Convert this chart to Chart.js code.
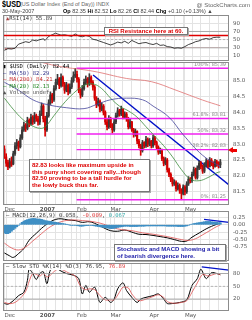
<!DOCTYPE html>
<html lang="en">
<head>
<meta charset="UTF-8">
<title>$USD</title>
<script src="https://cdn.jsdelivr.net/npm/chart.js"></script>
<style>
  body { margin: 0; width: 252px; height: 320px; position: relative; overflow: hidden; background: #fff;
         font-family: "Liberation Sans", Arial, sans-serif; }
  canvas { position: absolute; left: 0; }
  .t { position: absolute; white-space: nowrap; line-height: 1; z-index: 5; }
  .mono { font-family: "DejaVu Sans Mono", monospace; font-size: 5.5px; color: #333; }
  .box { position: absolute; z-index: 5; background: #fff; border: 1px solid #777; box-shadow: 1px 1px 0 #aaa;
         font-weight: bold; white-space: nowrap; box-sizing: border-box; }
</style>
</head>
<body>
<canvas id="rsiChart" width="252" height="46" style="top:15px"></canvas>
<canvas id="priceChart" width="252" height="152" style="top:62px"></canvas>
<canvas id="macdChart" width="252" height="50" style="top:211px"></canvas>
<canvas id="stoChart" width="252" height="57" style="top:263px"></canvas>

<!-- шапка -->
<div class="t" style="left:2px;top:0px;font-weight:bold;font-size:9px;transform:scaleX(0.8);transform-origin:left">$USD</div>
<div class="t" style="left:20px;top:2px;font-size:5.5px;color:#666">(US Dollar Index (End of Day)) INDX</div>
<div class="t" style="right:2px;top:2px;font-size:6px;color:#666">@ StockCharts.com</div>
<div class="t" style="left:2px;top:9px;font-size:5.5px;color:#444">30-May-2007</div>
<div class="t" style="left:63px;top:9px;font-size:5.5px;color:#444"><b style="color:#000">Op</b> 82.35 <b style="color:#000">Hi</b> 82.52 <b style="color:#000">Lo</b> 82.26 <b style="color:#000">Cl</b> 82.44 <b style="color:#000">Chg</b> +0.10 (+0.13%) ▲</div>

<!-- подписи панелей -->
<div class="t mono" style="left:6px;top:16px"><span style="color:#a44">▲</span>RSI(14) 55.89</div>
<div class="box" style="left:104px;top:27px;width:84px;height:8px;color:#d00;font-size:6px;text-align:center;line-height:6px">RSI Resistance here at 60.</div>

<div class="t mono" style="left:3px;top:63px;line-height:6.5px">
  <span style="color:#000">▮ $USD (Daily) 82.44</span><br>
  <span style="color:#33338a">— MA(50) 82.29</span><br>
  <span style="color:#c33">— MA(200) 84.21</span><br>
  <span style="color:#282">— MA(20) 82.13</span><br>
  <span style="color:#555">▲ Volume undef</span>
</div>
<div class="box" style="left:29px;top:159px;width:121px;height:33px;color:#d00;font-size:6px;line-height:6.7px;padding:2px 0 0 2px">82.83 looks like maximum upside in<br>this puny short covering rally...though<br>82.50 proving to be a tall hurdle for<br>the lowly buck thus far.</div>
<div class="t" style="left:228px;top:147px;width:0;height:0;border-right:5px solid #e00;border-top:3.5px solid transparent;border-bottom:3.5px solid transparent"></div>
<div class="t" style="left:232px;top:149px;width:5px;height:3px;background:#e00"></div>

<div class="t mono" style="left:6px;top:213px">— MACD(12,26,9) 0.058, <span style="color:#d33">-0.009</span>, <span style="color:#3aa">0.067</span></div>
<div class="box" style="left:114px;top:244px;width:112px;height:17px;color:#22a;font-size:6px;line-height:7px;padding:1px 0 0 2px">Stochastic and MACD showing a bit<br>of bearish divergence here.</div>

<div class="t mono" style="left:6px;top:264px;background:#fff">— Slow STO %K(14) %D(3) 76.95, <span style="color:#d33">76.89</span></div>

<script>
// --- оси времени: индекс торгового дня (1 дек 2006 = 0) ---
const X_MIN = -0.8, X_MAX = 126.9;
const monthIdx = [0, 20, 41, 60, 82, 102];
const monthNames = ['Dec', '2007', 'Feb', 'Mar', 'Apr', 'May'];
const weekIdx = [1, 6, 11, 16, 24, 29, 33, 38, 43, 48, 53, 57, 62, 67, 72, 77, 86, 91, 96, 101, 106, 111, 116, 121];

// --- цены ---
const opens = [82.85,82.60,82.42,82.30,82.45,82.38,82.70,82.95,83.05,82.92,83.20,83.45,83.60,83.50,83.75,83.65,83.85,83.70,83.90,83.80,
  83.70,83.95,84.20,83.80,83.45,83.90,84.30,84.55,84.40,84.75,84.95,85.05,84.85,85.10,84.90,84.70,84.85,84.65,84.80,85.00,85.15,
  85.20,85.05,84.70,84.55,84.75,84.95,85.05,84.90,85.10,84.95,84.80,84.45,84.25,84.35,84.10,84.20,84.00,83.70,83.55,
  83.80,83.60,83.45,83.70,83.90,84.05,83.95,84.10,83.85,83.95,83.80,83.55,83.70,83.45,83.30,83.40,83.10,82.95,82.80,83.05,82.95,83.15,
  83.00,83.10,82.95,83.20,83.05,82.90,82.75,82.80,82.55,82.40,82.50,82.20,82.05,81.90,81.75,81.80,81.60,81.70,81.55,81.45,
  81.65,81.50,81.75,81.90,81.85,82.05,82.20,81.95,82.25,82.40,82.30,82.15,82.35,82.45,82.30,82.50,82.40,82.30,82.45,82.38,82.35];
const highs = [82.95,82.70,82.50,82.55,82.60,82.78,83.05,83.15,83.10,83.30,83.55,83.70,83.65,83.85,83.80,83.95,83.90,84.00,83.95,83.88,
  84.05,84.30,84.25,83.88,84.00,84.40,84.65,84.60,84.85,85.05,85.20,85.10,85.22,85.15,84.95,84.95,84.90,84.90,85.10,85.28,85.39,
  85.30,85.10,84.75,84.85,85.05,85.15,85.10,85.22,85.15,85.00,84.85,84.50,84.45,84.40,84.30,84.25,84.05,83.78,83.90,
  83.85,83.65,83.78,83.98,84.15,84.10,84.20,84.12,84.02,84.00,83.85,83.78,83.72,83.50,83.48,83.42,83.15,83.00,83.12,83.08,83.25,83.20,
  83.18,83.12,83.28,83.25,83.10,82.95,82.88,82.85,82.60,82.58,82.55,82.25,82.10,81.95,81.88,81.85,81.78,81.75,81.60,81.72,
  81.70,81.82,81.98,81.95,82.12,82.28,82.25,82.32,82.48,82.45,82.35,82.42,82.55,82.50,82.58,82.55,82.45,82.52,82.50,82.45,82.52];
const lows = [82.55,82.30,82.20,82.25,82.30,82.35,82.65,82.85,82.80,82.88,83.15,83.40,83.40,83.45,83.55,83.60,83.62,83.65,83.72,83.60,
  83.62,83.90,83.70,83.25,83.40,83.85,84.25,84.30,84.35,84.70,84.88,84.75,84.80,84.82,84.60,84.65,84.55,84.60,84.75,84.95,85.10,
  84.95,84.62,84.45,84.50,84.70,84.88,84.80,84.85,84.88,84.70,84.38,84.15,84.20,84.02,84.05,83.92,83.62,83.45,83.50,
  83.52,83.35,83.40,83.65,83.85,83.88,83.90,83.80,83.80,83.72,83.48,83.50,83.40,83.22,83.25,83.02,82.88,82.65,82.75,82.88,82.90,82.92,
  82.95,82.88,82.90,82.98,82.85,82.68,82.70,82.48,82.32,82.35,82.12,81.98,81.82,81.68,81.70,81.52,81.55,81.45,81.25,81.40,
  81.40,81.45,81.70,81.78,81.80,82.00,81.90,81.90,82.20,82.22,82.08,82.10,82.30,82.25,82.28,82.32,82.22,82.28,82.30,82.25,82.26];
const closes = [82.62,82.40,82.28,82.45,82.35,82.70,82.95,83.05,82.90,83.20,83.45,83.60,83.50,83.75,83.65,83.85,83.70,83.90,83.80,83.70,
  83.95,84.20,83.80,83.45,83.90,84.30,84.55,84.40,84.75,84.95,85.05,84.85,85.10,84.90,84.70,84.85,84.65,84.80,85.00,85.15,85.20,
  85.05,84.70,84.55,84.75,84.95,85.05,84.90,85.10,84.95,84.80,84.45,84.25,84.35,84.10,84.20,84.00,83.70,83.55,83.80,
  83.60,83.45,83.70,83.90,84.05,83.95,84.10,83.85,83.95,83.80,83.55,83.70,83.45,83.30,83.40,83.10,82.95,82.80,83.05,82.95,83.15,83.00,
  83.10,82.95,83.20,83.05,82.90,82.75,82.80,82.55,82.40,82.50,82.20,82.05,81.90,81.75,81.80,81.60,81.70,81.55,81.45,81.65,
  81.50,81.75,81.90,81.85,82.05,82.20,81.95,82.25,82.40,82.30,82.15,82.35,82.45,82.30,82.50,82.40,82.30,82.45,82.38,82.34,82.44];

// скользящие средние
const ma20Days = [0, 5, 10, 15, 20, 23, 28, 33, 39, 45, 50, 55, 60, 65, 70, 75, 80, 85, 90, 95, 100, 105, 110, 115, 120, 122];
const ma20Vals = [84.45, 84.1, 83.8, 83.6, 83.5, 83.55, 83.9, 84.25, 84.6, 84.85, 84.9, 84.75, 84.45, 84.2, 84.05, 83.85, 83.55, 83.25, 82.95, 82.6, 82.2, 81.9, 81.85, 81.95, 82.1, 82.13];
const ma50Days = [0, 8, 16, 24, 35, 45, 52, 60, 69, 78, 84, 93, 101, 112, 122];
const ma50Vals = [84.95, 84.7, 84.4, 84.25, 84.15, 84.12, 84.25, 84.4, 84.45, 84.4, 84.2, 83.85, 83.3, 82.65, 82.29];
const ma200Days = [0, 15, 31, 50, 69, 83, 97, 112, 122];
const ma200Vals = [85.75, 85.65, 85.45, 85.3, 85.07, 84.97, 84.7, 84.39, 84.21];

// уровни Фибоначчи и линия тренда
const fibNames = ['100%', '61.8%', '50%', '38.2%', '0%'];
const fibLevels = [85.39, 83.81, 83.32, 82.83, 81.25];
const fibStart = 40.8;
const trendDays = [50.1, 126.9];
const trendVals = [85.18, 81.72];

// RSI
const rsiDays = [0,2,4,6,8,10,12,14,16,18,20,22,23,25,27,29,30,32,34,36,38,40,42,44,46,48,50,52,54,56,58,60,62,64,66,68,70,72,74,76,78,80,82,84,86,88,90,92,94,96,98,100,102,104,106,108,110,112,114,116,118,120,122];
const rsiVals = [24,28,27,29,39,42,45,43,49,47,50,52,48,58,62,66,64,61,62,60,58,64,59,57,60,58,51,49,46,43,40,37,40,44,42,46,41,48,44,40,42,43,40,38,41,36,37,33,32,29,30,29,33,38,41,45,47,51,53,51,55,56,55.89];
const rsiResist = 60;

// MACD
const macdDays = [0,3,5,8,11,14,18,22,26,29,32,36,40,44,48,52,56,60,64,68,72,76,80,84,88,92,96,100,103,106,110,114,118,122];
const macdVals = [-0.95,-1.05,-1.1,-0.97,-0.8,-0.52,-0.29,-0.07,0.1,0.18,0.2,0.16,0.14,0.08,0.1,0.02,-0.1,-0.2,-0.22,-0.18,-0.25,-0.32,-0.33,-0.36,-0.4,-0.44,-0.5,-0.56,-0.55,-0.42,-0.28,-0.14,-0.03,0.058];
const sigDays = [0,4,8,12,16,20,24,28,32,36,40,44,48,52,56,60,64,68,72,76,80,84,88,92,96,100,104,108,112,116,120,122];
const sigVals = [-0.62,-0.78,-0.85,-0.75,-0.55,-0.35,-0.15,0.0,0.1,0.15,0.16,0.14,0.12,0.08,0.02,-0.07,-0.14,-0.18,-0.2,-0.25,-0.29,-0.32,-0.36,-0.4,-0.45,-0.5,-0.53,-0.47,-0.34,-0.2,-0.06,-0.009];
const histVals = [-0.28,-0.3,-0.3,-0.27,-0.22,-0.17,-0.12,-0.07,-0.02,0.03,0.08,0.12,0.15,0.17,0.19,0.2,0.21,0.21,0.2,0.19,
  0.19,0.18,0.16,0.14,0.13,0.12,0.11,0.1,0.09,0.08,0.07,0.06,0.05,0.04,0.03,0.01,0.0,-0.01,-0.02,-0.02,-0.02,
  -0.03,-0.04,-0.05,-0.05,-0.04,-0.03,-0.03,-0.02,-0.02,-0.03,-0.04,-0.05,-0.06,-0.07,-0.08,-0.09,-0.1,-0.11,-0.12,
  -0.13,-0.13,-0.12,-0.11,-0.09,-0.08,-0.07,-0.06,-0.05,-0.05,-0.05,-0.06,-0.06,-0.06,-0.06,-0.06,-0.05,-0.05,-0.05,-0.05,-0.04,-0.04,
  -0.04,-0.04,-0.04,-0.04,-0.04,-0.04,-0.04,-0.04,-0.04,-0.04,-0.05,-0.05,-0.05,-0.05,-0.05,-0.05,-0.06,-0.06,-0.06,-0.06,
  -0.05,-0.04,-0.02,0.0,0.02,0.04,0.05,0.06,0.07,0.08,0.09,0.1,0.11,0.11,0.11,0.1,0.09,0.09,0.08,0.07,0.067];
const macdTrendDays = [112.8, 126.9];
const macdTrendVals = [0.18, 0.08];

// Slow Stochastic
const stoKDays = [0,2,5,8,11,13,14,16,18,20,22,24,26,29,31,35,39,42,44,46,48,51,54,57,60,62,64,67,69,72,75,77,80,84,87,90,92,95,99,103,106,109,111,114,117,120,122];
const stoKVals = [9.5,8,16,28,36,64,90,80,66,80,84,56,88,94,88,80,76,68,32,52,36,48,12,24,12,20,44,58,40,24,12,20,24,28,32,20,9.5,9.5,12,18,52,68,90,68,82,80,76.95];
const stoDDays = [0,3,6,9,12,14,16,18,20,22,24,26,29,32,36,40,43,46,48,51,54,57,60,62,65,67,70,72,75,77,80,84,87,90,92,96,100,103,106,109,112,115,117,120,122];
const stoDVals = [12,9,12,22,38,62,80,78,74,80,72,76,88,90,82,74,50,42,44,42,28,18,18,18,36,48,46,32,18,16,20,26,30,24,14,10,12,16,36,58,78,74,76,80,76.89];
const stoTrendDays = [111.5, 126.9];
const stoTrendVals = [95.8, 87.9];

Chart.defaults.font.family = 'DejaVu Sans';

const pts = (xs, ys) => xs.map((x, i) => ({ x: x, y: ys[i] }));
const hline = v => [{ x: X_MIN, y: v }, { x: X_MAX, y: v }];
const gridIdx = monthIdx.concat(weekIdx).sort((a, b) => a - b);

// рамка панели
const frame = {
  id: 'frame',
  afterDraw(chart) {
    const a = chart.chartArea, c = chart.ctx;
    c.save();
    c.strokeStyle = '#8c8c8c';
    c.lineWidth = 1;
    c.strokeRect(Math.round(a.left) + 0.5, Math.round(a.top) + 0.5,
      Math.round(a.right - a.left) - 1, Math.round(a.bottom - a.top) - 1);
    c.restore();
  }
};

function xScale(showLabels) {
  return {
    type: 'linear', min: X_MIN, max: X_MAX, offset: false,
    afterBuildTicks: s => { s.ticks = gridIdx.map(v => ({ value: v })); },
    afterFit: s => { s.height = showLabels ? 9 : 0; s.paddingLeft = 0; s.paddingRight = 0; },
    grid: { color: '#e3e3e3', drawTicks: false, offset: false },
    border: { display: false },
    ticks: {
      display: showLabels, autoSkip: false, maxRotation: 0, align: 'start', padding: 1, color: '#555',
      font: c => ({ family: 'DejaVu Sans', size: 5.5, weight: c.tick && c.tick.value === 20 ? 'bold' : 'normal' }),
      callback: v => { const k = monthIdx.indexOf(v); return k < 0 ? '' : monthNames[k]; }
    }
  };
}

function yScale(min, max, ticks, fmt) {
  return {
    position: 'right', min: min, max: max,
    afterBuildTicks: s => { s.ticks = ticks.map(v => ({ value: v })); },
    afterFit: s => { s.width = 23; s.paddingTop = 0; s.paddingBottom = 0; },
    grid: { color: '#e3e3e3', drawTicks: false },
    border: { display: false },
    ticks: { color: '#555', padding: 4, autoSkip: false, font: { size: 5.5 }, callback: fmt }
  };
}

function options(y, showX) {
  return {
    responsive: false, animation: false, devicePixelRatio: 1,
    layout: { padding: { left: 3, right: 0, top: 0, bottom: 0 } },
    plugins: { legend: { display: false }, tooltip: { enabled: false } },
    elements: { point: { radius: 0 }, line: { borderWidth: 1, tension: 0 } },
    scales: { x: xScale(showX), y: y }
  };
}

function line(data, color, width, extra) {
  return Object.assign({ type: 'line', data: data, borderColor: color, borderWidth: width, pointRadius: 0, fill: false }, extra || {});
}

// --- RSI ---
new Chart(document.getElementById('rsiChart'), {
  type: 'line',
  data: {
    datasets: [
      line(hline(rsiResist), '#e00000', 1.5),
      line(pts(rsiDays, rsiVals), '#111', 0.8, {
        fill: { target: { value: 30 }, above: 'rgba(0,0,0,0)', below: '#c98080' }
      }),
      line(hline(70), '#9a9a9a', 0.8),
      line(hline(30), '#9a9a9a', 0.8),
      line(hline(50), '#aaa', 0.8, { borderDash: [2, 2] })
    ]
  },
  options: options(yScale(-2.23, 110.3, [90, 70, 50, 30, 10], v => String(v)), false),
  plugins: [frame]
});

// --- Цена ---
const days = closes.map((c, i) => i);
const candleColor = closes.map((c, i) => c < opens[i] ? '#d40000' : '#3a3a3a');

const fibLabels = {
  id: 'fibLabels',
  afterDatasetsDraw(chart) {
    const c = chart.ctx, ys = chart.scales.y, a = chart.chartArea;
    c.save();
    c.font = '5px "DejaVu Sans"';
    c.fillStyle = '#888';
    c.textAlign = 'right';
    c.textBaseline = 'bottom';
    fibLevels.forEach((v, i) => {
      c.fillText(fibNames[i] + ': ' + v.toFixed(2), a.right - 3, ys.getPixelForValue(v) - 1);
    });
    c.restore();
  }
};

const fibSets = fibLevels.map(v => line([{ x: fibStart, y: v }, { x: X_MAX, y: v }], '#f020f0', 1.4));

new Chart(document.getElementById('priceChart'), {
  type: 'line',
  data: {
    datasets: [
      line(pts(ma200Days, ma200Vals), '#e07070', 0.8, { tension: 0.4 }),
      line(pts(ma50Days, ma50Vals), '#44449a', 0.8, { tension: 0.4 }),
      line(pts(ma20Days, ma20Vals), '#3c8c3c', 0.8, { tension: 0.4 }),
      ...fibSets,
      {
        type: 'bar', data: days.map(i => ({ x: i, y: [lows[i], highs[i]] })),
        backgroundColor: candleColor, barThickness: 1, grouped: false
      },
      {
        type: 'bar', data: days.map(i => ({ x: i, y: [opens[i], closes[i]] })),
        backgroundColor: candleColor, barThickness: 1.5, grouped: false
      },
      line(pts(trendDays, trendVals), '#0010c8', 1.4)
    ]
  },
  options: options(yScale(81.085, 85.589, [81.5, 82.0, 82.5, 83.0, 83.5, 84.0, 84.5, 85.0], v => v.toFixed(1)), true),
  plugins: [frame, fibLabels]
});

// --- MACD ---
new Chart(document.getElementById('macdChart'), {
  type: 'line',
  data: {
    datasets: [
      {
        type: 'bar', data: days.map(i => ({ x: i, y: histVals[i] })),
        backgroundColor: '#3f8fc4', barThickness: 2, grouped: false
      },
      line(pts(sigDays, sigVals), '#e05050', 0.8, { tension: 0.4 }),
      line(pts(macdDays, macdVals), '#000', 1, { tension: 0.4 }),
      line(pts(macdTrendDays, macdTrendVals), '#0010c8', 1.2)
    ]
  },
  options: options(yScale(-1.221, 0.462, [0.25, 0, -0.25, -0.5, -0.75], v => v.toFixed(2)), false),
  plugins: [frame]
});

// --- Slow STO ---
new Chart(document.getElementById('stoChart'), {
  type: 'line',
  data: {
    datasets: [
      line(hline(80), '#9a9a9a', 0.8),
      line(hline(20), '#9a9a9a', 0.8),
      line(hline(50), '#aaa', 0.8, { borderDash: [2, 2] }),
      line(pts(stoDDays, stoDVals), '#e05050', 0.8, { tension: 0.3 }),
      line(pts(stoKDays, stoKVals), '#000', 1, { tension: 0.3 }),
      line(pts(stoTrendDays, stoTrendVals), '#0010c8', 1.2)
    ]
  },
  options: options(yScale(-8.08, 104.7, [80, 50, 20], v => String(v)), true),
  plugins: [frame]
});
</script>
</body>
</html>
